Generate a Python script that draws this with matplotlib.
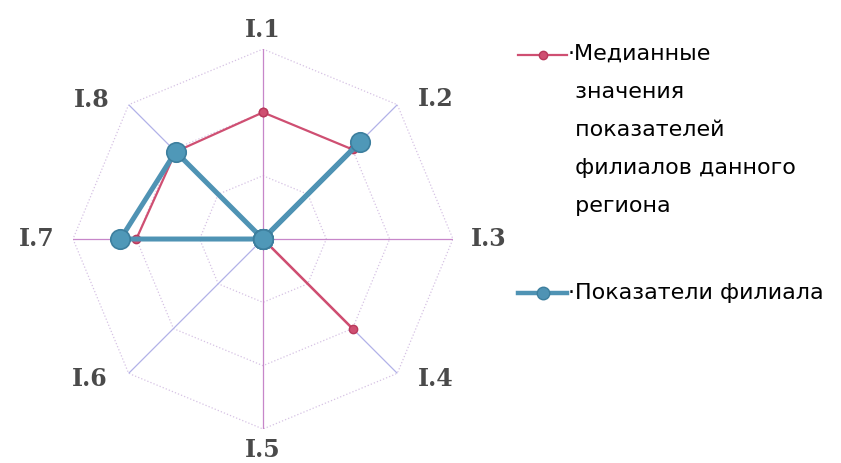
"""
Radar chart: median branch indicators of the region vs. the branch
"""
import numpy as np
import matplotlib.pyplot as plt
from matplotlib.lines import Line2D

categories = ['I.1', 'I.2', 'I.3', 'I.4', 'I.5', 'I.6', 'I.7', 'I.8']
median_vals = [2.0, 2.0, 0.0, 2.0, 0.0, 0.0, 2.0, 1.95]
branch_vals = [0.0, 2.17, 0.0, 0.0, 0.0, 0.0, 2.25, 1.95]
rmax = 3.0
rings = [1.0, 2.0, 3.0]

median_label = 'Медианные\nзначения\nпоказателей\nфилиалов данного\nрегиона'
branch_label = 'Показатели филиала'

red = '#cf4f72'
blue = '#4f93b4'

W, H = 841, 463
n = len(categories)
angles = np.arange(n) * 2 * np.pi / n

fig = plt.figure(figsize=(W / 100, H / 100), dpi=100)
ax = fig.add_axes([0.0868, 0.0734, 0.4518, 0.8207], projection='polar')
ax.set_theta_zero_location('N')
ax.set_theta_direction(-1)
ax.set_ylim(0, rmax)
ax.grid(False)
ax.spines['polar'].set_visible(False)
ax.set_xticks([])
ax.set_yticks([])

# octagon rings
ring_angles = np.append(angles, angles[0])
for r in rings:
    ax.plot(ring_angles, [r] * (n + 1), color='#d6c2e4', lw=0.9, ls=':', zorder=1)

# spokes
for i, a in enumerate(angles):
    c = '#c786c9' if i % 2 == 0 else '#b2b2e8'
    ax.plot([a, a], [0, rmax], color=c, lw=0.9, zorder=1)

# axis labels
lab_pos = {0: (0, 1.10), 2: (90, 1.19), 4: (180, 1.11), 6: (270, 1.19),
           1: (51, 1.17), 3: (129, 1.17), 5: (231, 1.17), 7: (309, 1.16)}
for i, cat in enumerate(categories):
    th, rr = lab_pos[i]
    ax.text(np.deg2rad(th), rr * rmax, cat, ha='center', va='center',
            fontsize=17, fontweight='bold', family='DejaVu Serif',
            color='#4a4a4a', clip_on=False)

a_closed = np.append(angles, angles[0])
m_closed = median_vals + median_vals[:1]
b_closed = branch_vals + branch_vals[:1]
ax.plot(a_closed, m_closed, color=red, lw=1.6, marker='o', ms=6,
        mec='#b83a5c', zorder=3, clip_on=False)
ax.plot(a_closed, b_closed, color=blue, lw=3.6, marker='o', ms=14,
        mfc='#4f98b8', mec='#3d7f9e', mew=1.2, zorder=4, clip_on=False)

# legend, drawn by hand so the key sits on the first text line
def key(y_px, color, lw, ms, mec):
    y = 1 - y_px / H
    fig.add_artist(Line2D([518 / W, 567 / W], [y, y], color=color, lw=lw,
                          transform=fig.transFigure))
    fig.add_artist(Line2D([543 / W], [y], color=color, marker='o', ms=ms,
                          mec=mec, transform=fig.transFigure))

key(55, red, 1.6, 6, '#b83a5c')
key(293, blue, 3.2, 9, '#3d7f9e')
fig.text(568 / W, 1 - 44 / H, '\u00b7' + median_label.replace('\n', '\n '),
         ha='left', va='top', fontsize=16, linespacing=2.12, color='black')
fig.text(568 / W, 1 - 293 / H, '\u00b7' + branch_label, ha='left',
         va='center', fontsize=16, color='black')

fig.savefig('out.png', dpi=100)
